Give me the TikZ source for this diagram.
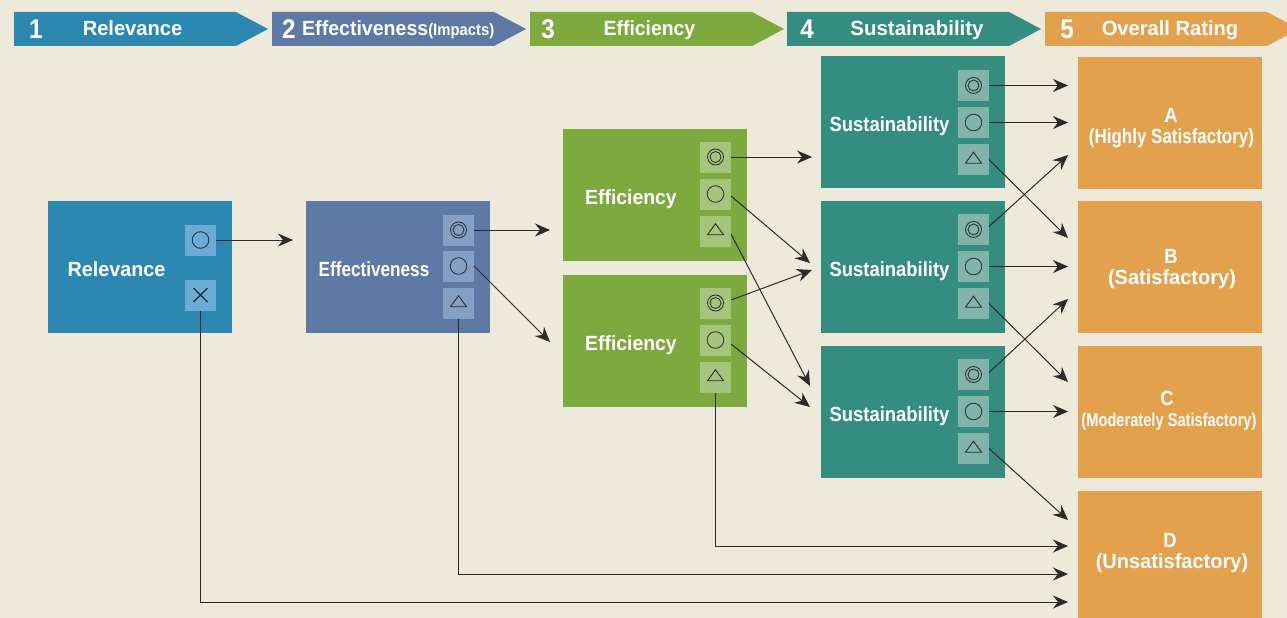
\documentclass[tikz,border=0pt]{standalone}
\usepackage{graphicx}
\usepackage{fontspec}
\setmainfont{Liberation Sans}[FakeStretch=0.9]
\usetikzlibrary{arrows.meta,shapes.geometric}
\definecolor{bgc}{HTML}{EDEADC}
\definecolor{cblue}{HTML}{2C88B0}
\definecolor{cslate}{HTML}{5E79A3}
\definecolor{cgreen}{HTML}{7DA93F}
\definecolor{cteal}{HTML}{358C80}
\definecolor{corange}{HTML}{E3A04D}
\definecolor{sblue}{HTML}{69ACD6}
\definecolor{sslate}{HTML}{84A0C5}
\definecolor{sgreen}{HTML}{A5C57D}
\definecolor{steal}{HTML}{82B4A9}
\definecolor{ink}{HTML}{2B2B2B}
\newcommand{\sx}[2]{\scalebox{#1}[1]{#2}}
\tikzset{
  x=1pt,y=-1pt,
  box/.style={draw=none,minimum width=184pt,minimum height=132pt,inner sep=0pt,outer sep=0pt},
  sq/.style={draw=none,minimum size=31pt,inner sep=0pt,outer sep=0pt},
  dbl/.style={sq,path picture={\draw[ink,line width=.8pt] (path picture bounding box.center) circle (8pt) circle (5.5pt);}},
  sing/.style={sq,path picture={\draw[ink,line width=.8pt] (path picture bounding box.center) circle (8.3pt);}},
  tri/.style={sq,path picture={\draw[ink,line width=.9pt] ([shift={(-8pt,-3.7pt)}]path picture bounding box.center) -- ++(16pt,0pt) -- ++(-8pt,11pt) -- cycle;}},
  crs/.style={sq,path picture={\draw[ink,line width=1.2pt] ([shift={(-7pt,-7pt)}]path picture bounding box.center) -- ++(14pt,14pt) ([shift={(7pt,-7pt)}]path picture bounding box.center) -- ++(-14pt,14pt);}},
  lab/.style={text=white,font=\fontsize{20.5}{20.5}\selectfont\bfseries,inner sep=0pt,anchor=base},
  rate/.style={text=white,font=\fontsize{20.5}{21}\selectfont\bfseries,inner sep=0pt,anchor=base},
  conn/.style={draw=ink,line width=1pt,-{Stealth[length=15pt,width=13pt,inset=5pt]}},
  num/.style={text=white,font=\fontsize{27}{27}\selectfont\bfseries,inner sep=0pt,anchor=base},
}
\newcommand{\headarrow}[3]{\fill[#3] (#1,12) -- (#2-32,12) -- (#2,29) -- (#2-32,46) -- (#1,46) -- cycle;}
\begin{document}
\begin{tikzpicture}
\useasboundingbox (0,0) rectangle (1287,618);
\clip (0,0) rectangle (1287,618);
\fill[bgc] (0,0) rectangle (1287,618);
% header
\headarrow{14}{268}{cblue}
\headarrow{272}{526}{cslate}
\headarrow{530}{784}{cgreen}
\headarrow{787}{1041}{cteal}
\headarrow{1045}{1299}{corange}
\node[num] (n1) at (36,38) {1};
\node[lab] (h1) at (132.5,36) {\sx{1.09}{Relevance}};
\node[num] (n2) at (289,38) {2};
\node[lab,anchor=base west] (h2) at (302,36) {\sx{1.06}{Effectiveness}\fontsize{16.5}{16.5}\selectfont(Impacts)};
\node[num] (n3) at (548,38) {3};
\node[lab] (h3) at (649.5,36) {\sx{1.05}{Efficiency}};
\node[num] (n4) at (807,38) {4};
\node[lab] (h4) at (917,36) {\sx{1.11}{Sustainability}};
\node[num] (n5) at (1067,38) {5};
\node[lab] (h5) at (1170,36) {\sx{1.09}{Overall Rating}};
% boxes
\node[box,fill=cblue] (rel) at (140,267) {};
\node[box,fill=cslate] (eff) at (398,267) {};
\node[box,fill=cgreen] (ef1) at (655,195) {};
\node[box,fill=cgreen] (ef2) at (655,341) {};
\node[box,fill=cteal] (su1) at (913,122) {};
\node[box,fill=cteal] (su2) at (913,267) {};
\node[box,fill=cteal] (su3) at (913,412) {};
\node[box,fill=corange] (ra) at (1170,123) {};
\node[box,fill=corange] (rb) at (1170,267) {};
\node[box,fill=corange] (rc) at (1170,412) {};
\node[box,fill=corange] (rd) at (1170,557) {};
% box labels
\node[lab] (lrel) at (116.5,276) {\sx{1.07}{Relevance}};
\node[lab] (leff) at (374,276) {\sx{.93}{Effectiveness}};
\node[lab] (lef1) at (631,204) {\sx{1.05}{Efficiency}};
\node[lab] (lef2) at (631,350) {\sx{1.05}{Efficiency}};
\node[lab] (lsu1) at (889.5,131) {Sustainability};
\node[lab] (lsu2) at (889.5,276) {Sustainability};
\node[lab] (lsu3) at (889.5,421) {Sustainability};
\node[rate] (la) at (1171,122) {A};
\node[rate] (la2) at (1171.5,143) {\sx{.92}{(Highly Satisfactory)}};
\node[rate] (lb) at (1171,263) {B};
\node[rate] (lb2) at (1172,284) {\sx{1.085}{(Satisfactory)}};
\node[rate] (lc) at (1167,405) {C};
\node[rate,font=\fontsize{18.5}{19}\selectfont\bfseries] (lc2) at (1169,426) {\sx{.88}{(Moderately Satisfactory)}};
\node[rate] (ld) at (1170,547) {D};
\node[rate] (ld2) at (1172,568) {\sx{1.085}{(Unsatisfactory)}};
% small squares
\node[sing,fill=sblue] (r1) at (200.5,240) {};
\node[crs,fill=sblue] (r2) at (200.5,295) {};
\node[dbl,fill=sslate] (e1) at (458.5,230) {};
\node[sing,fill=sslate] (e2) at (458.5,266) {};
\node[tri,fill=sslate] (e3) at (458.5,303) {};
\node[dbl,fill=sgreen] (fa1) at (715.5,157) {};
\node[sing,fill=sgreen] (fa2) at (715.5,194) {};
\node[tri,fill=sgreen] (fa3) at (715.5,231) {};
\node[dbl,fill=sgreen] (fb1) at (715.5,303) {};
\node[sing,fill=sgreen] (fb2) at (715.5,340) {};
\node[tri,fill=sgreen] (fb3) at (715.5,377) {};
\node[dbl,fill=steal] (sa1) at (973.5,85.5) {};
\node[sing,fill=steal] (sa2) at (973.5,122.5) {};
\node[tri,fill=steal] (sa3) at (973.5,159.5) {};
\node[dbl,fill=steal] (sb1) at (973.5,229.5) {};
\node[sing,fill=steal] (sb2) at (973.5,266.5) {};
\node[tri,fill=steal] (sb3) at (973.5,303.5) {};
\node[dbl,fill=steal] (sc1) at (973.5,374.5) {};
\node[sing,fill=steal] (sc2) at (973.5,411.5) {};
\node[tri,fill=steal] (sc3) at (973.5,448.5) {};
% free ends
\coordinate (t1) at (293,240);
\coordinate (t2) at (550,230);
\coordinate (t3) at (550,342);
\coordinate (t4) at (812,157);
\coordinate (t5) at (810,263);
\coordinate (t6) at (810,386);
\coordinate (t7) at (812,270);
\coordinate (t8) at (810,407);
\coordinate (a1) at (1068,85.5);
\coordinate (a2) at (1068,122.5);
\coordinate (a3) at (1068,155);
\coordinate (b1) at (1068,238);
\coordinate (b2) at (1068,266.5);
\coordinate (b3) at (1068,299);
\coordinate (c1) at (1068,382);
\coordinate (c2) at (1068,411.5);
\coordinate (d1) at (1068,520);
\coordinate (d2) at (1068,546);
\coordinate (d3) at (1068,574);
\coordinate (d4) at (1068,602);
% connectors
\draw[conn] (r1.east) -- (t1);
\draw[conn] (r2.south) |- (d4);
\draw[conn] (e1.east) -- (t2);
\draw[conn] (e2.east) -- (t3);
\draw[conn] (e3.south) |- (d3);
\draw[conn] (fa1.east) -- (t4);
\draw[conn] ([yshift=-2pt]fa2.east) -- (t5);
\draw[conn] ([yshift=-3pt]fa3.east) -- (t6);
\draw[conn] ([yshift=3pt]fb1.east) -- (t7);
\draw[conn] ([yshift=-4pt]fb2.east) -- (t8);
\draw[conn] (fb3.south) |- (d2);
\draw[conn] (sa1.east) -- (a1);
\draw[conn] (sa2.east) -- (a2);
\draw[conn] (sa3.east) -- (b1);
\draw[conn] ([yshift=3pt]sb1.east) -- (a3);
\draw[conn] (sb2.east) -- (b2);
\draw[conn] (sb3.east) -- (c1);
\draw[conn] ([yshift=2pt]sc1.east) -- (b3);
\draw[conn] (sc2.east) -- (c2);
\draw[conn] (sc3.east) -- (d1);
\end{tikzpicture}
\end{document}
